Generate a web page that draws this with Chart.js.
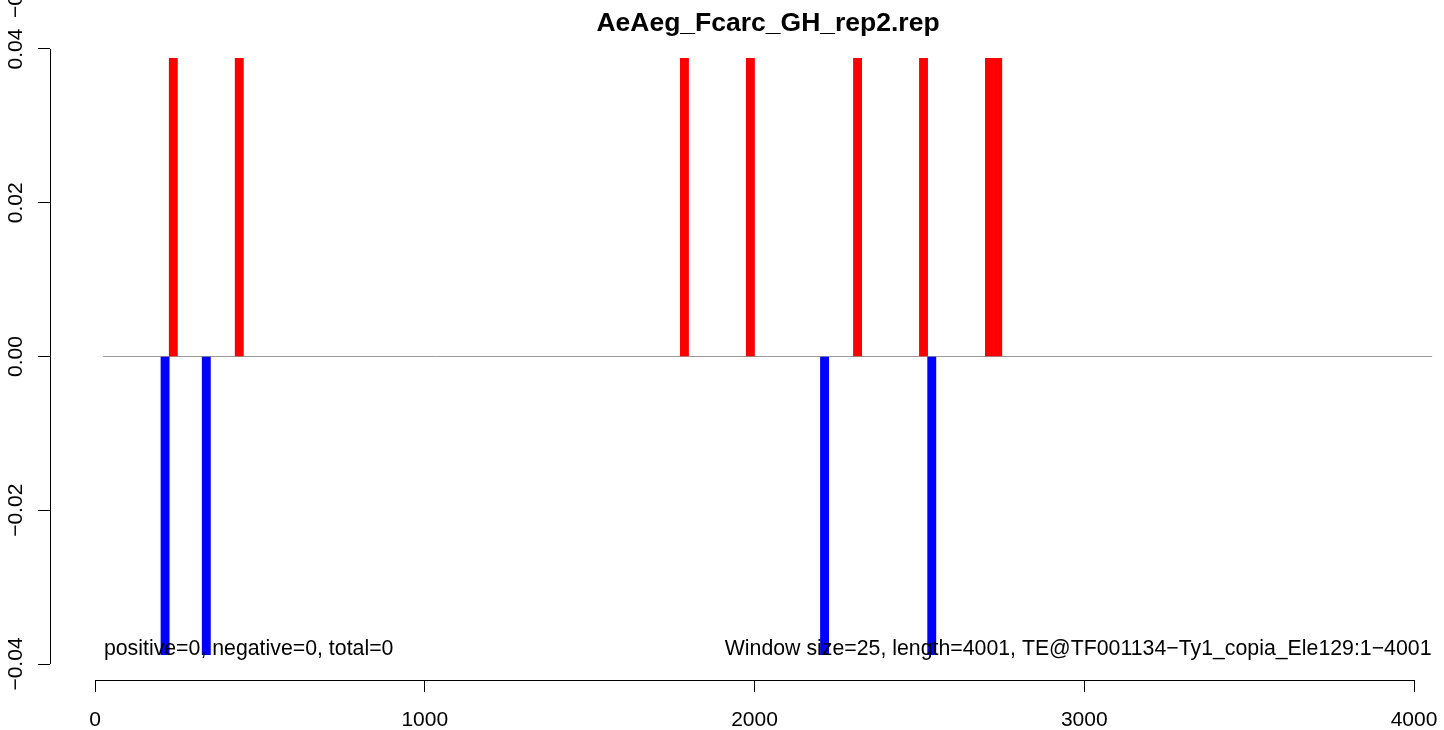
<!DOCTYPE html>
<html>
<head>
<meta charset="utf-8">
<script src="https://cdn.jsdelivr.net/npm/chart.js@4"></script>
<style>
  html, body { margin: 0; padding: 0; background: #fff; }
  #wrap { width: 1444px; height: 730px; position: relative; }
</style>
</head>
<body>
<div id="wrap"><canvas id="chart"></canvas></div>
<script>
// window start positions and heights
const WINDOW = 25;
const posStarts = [225, 425, 1775, 1975, 2300, 2500, 2700, 2725];
const posValues = [0.0388, 0.0388, 0.0388, 0.0388, 0.0388, 0.0388, 0.0388, 0.0388];
const negStarts = [200, 325, 2200, 2525];
const negValues = [-0.0388, -0.0388, -0.0388, -0.0388];
const baseLine = [[25, 0], [4055, 0]];

const xTicks = [0, 1000, 2000, 3000, 4000];
const yTicks = [-0.04, -0.02, 0, 0.02, 0.04];
const yTickLabels = ['\u22120.04', '\u22120.02', '0.00', '0.02', '0.04'];

const TITLE = 'AeAeg_Fcarc_GH_rep2.rep';
const NOTE_LEFT = 'positive=0, negative=0, total=0';
const NOTE_RIGHT = 'Window size=25, length=4001, TE@TF001134\u2212Ty1_copia_Ele129:1\u22124001';

const X_MIN = -136.5, X_MAX = 4078.8;
const Y_MIN = -0.04208, Y_MAX = 0.04117;
const FONT = "'Liberation Sans', Arial, Helvetica, sans-serif";

const pxPerUnit = 1390 / (X_MAX - X_MIN);
const barPx = WINDOW * pxPerUnit;

const toPoints = (starts, vals) => starts.map((s, i) => ({ x: s + WINDOW / 2, y: vals[i] }));

// R-style axes, rotated y labels, title and notes
const rDecor = {
  id: 'rDecor',
  afterDraw(chart) {
    const { ctx, chartArea, scales: { x, y } } = chart;
    ctx.save();
    ctx.strokeStyle = '#000';
    ctx.lineWidth = 1;
    ctx.beginPath();
    const xb = Math.round(chartArea.bottom) + 0.5;
    ctx.moveTo(x.getPixelForValue(xTicks[0]), xb);
    ctx.lineTo(x.getPixelForValue(xTicks[xTicks.length - 1]), xb);
    const yl = Math.round(chartArea.left) + 0.5;
    ctx.moveTo(yl, y.getPixelForValue(yTicks[0]));
    ctx.lineTo(yl, y.getPixelForValue(yTicks[yTicks.length - 1]));
    ctx.stroke();

    ctx.fillStyle = '#000';
    ctx.font = `21px ${FONT}`;
    yTicks.forEach((v, i) => {
      ctx.save();
      ctx.translate(chartArea.left - 28, y.getPixelForValue(v));
      ctx.rotate(-Math.PI / 2);
      ctx.textAlign = 'center';
      ctx.textBaseline = 'alphabetic';
      ctx.fillText(yTickLabels[i], 0, 0);
      ctx.restore();
    });
    // clipped extra label seen above the top tick
    ctx.save();
    ctx.translate(chartArea.left - 28, y.getPixelForValue(0.04) - 31);
    ctx.rotate(-Math.PI / 2);
    ctx.textAlign = 'left';
    ctx.fillText('\u22120.04', 0, 0);
    ctx.restore();

    ctx.font = `21.3px ${FONT}`;
    const ny = y.getPixelForValue(-0.04) - 9;
    ctx.textBaseline = 'alphabetic';
    ctx.textAlign = 'left';
    ctx.fillText(NOTE_LEFT, x.getPixelForValue(27), ny);
    ctx.textAlign = 'right';
    ctx.fillText(NOTE_RIGHT, x.getPixelForValue(4053), ny);

    ctx.font = `bold 26.5px ${FONT}`;
    ctx.textAlign = 'center';
    ctx.fillText(TITLE, 768, 31);
    ctx.restore();
  }
};

new Chart(document.getElementById('chart'), {
  data: {
    datasets: [
      {
        type: 'line',
        data: baseLine.map(([x, y]) => ({ x, y })),
        borderColor: '#9a9a9a',
        borderWidth: 1,
        pointRadius: 0,
        order: 3,
      },
      {
        type: 'bar',
        data: toPoints(posStarts, posValues),
        backgroundColor: '#ff0000',
        borderWidth: 0,
        barThickness: barPx,
        grouped: false,
        order: 1,
      },
      {
        type: 'bar',
        data: toPoints(negStarts, negValues),
        backgroundColor: '#0000ff',
        borderWidth: 0,
        barThickness: barPx,
        grouped: false,
        order: 2,
      },
    ],
  },
  options: {
    responsive: true,
    maintainAspectRatio: false,
    animation: false,
    layout: { padding: { top: 40, right: 4, left: 0, bottom: 0 } },
    plugins: { legend: { display: false }, tooltip: { enabled: false }, title: { display: false } },
    scales: {
      x: {
        type: 'linear',
        min: X_MIN,
        max: X_MAX,
        offset: false,
        afterBuildTicks: (s) => { s.ticks = xTicks.map((v) => ({ value: v })); },
        afterFit: (s) => { s.height = 50; s.paddingLeft = 0; s.paddingRight = 0; },
        border: { display: false },
        grid: { display: true, offset: false, drawOnChartArea: false, drawTicks: true, tickLength: 12, color: '#000', lineWidth: 1 },
        ticks: {
          color: '#000', font: { family: FONT, size: 21 }, padding: 16, maxRotation: 0, autoSkip: false,
          callback: (v) => String(v),
        },
      },
      y: {
        type: 'linear',
        min: Y_MIN,
        max: Y_MAX,
        afterBuildTicks: (s) => { s.ticks = yTicks.map((v) => ({ value: v })); },
        afterFit: (s) => { s.width = 50; s.paddingTop = 0; s.paddingBottom = 0; },
        border: { display: false },
        grid: { display: true, drawOnChartArea: false, drawTicks: true, tickLength: 12, color: '#000', lineWidth: 1 },
        ticks: { display: false },
      },
    },
  },
  plugins: [rDecor],
});
</script>
</body>
</html>
